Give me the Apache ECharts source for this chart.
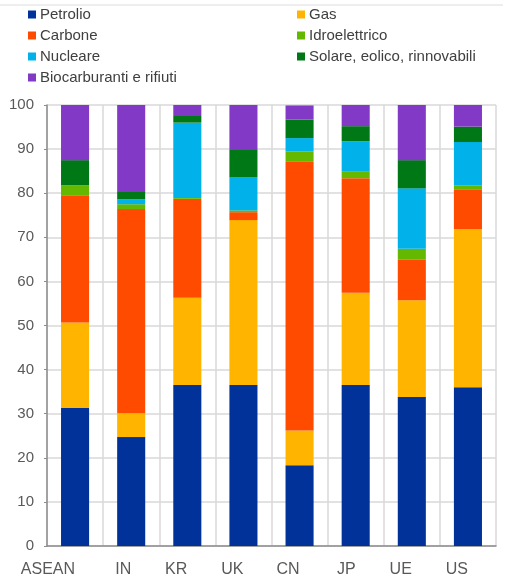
<!DOCTYPE html>
<html>
<head>
<meta charset="utf-8">
<script src="https://cdn.jsdelivr.net/npm/echarts@6/dist/echarts.min.js"></script>
<style>
  html, body { margin: 0; padding: 0; background: #fff; }
  #main { width: 508px; height: 579px; }
</style>
</head>
<body>
<div id="main"></div>
<script>
// categorie e valori (quote %)
var paesi = ['ASEAN', 'IN', 'KR', 'UK', 'CN', 'JP', 'UE', 'US'];
var petrolio = [31.3, 24.7, 36.5, 36.5, 18.3, 36.5, 33.8, 36.0];
var gas = [19.4, 5.4, 19.8, 37.4, 7.9, 20.9, 21.9, 35.9];
var carbone = [28.7, 46.3, 22.4, 1.8, 60.9, 26.0, 9.2, 9.0];
var idroelettrico = [2.4, 1.1, 0.2, 0.4, 2.4, 1.6, 2.5, 0.9];
var nucleare = [0, 1.1, 17.1, 7.5, 3.0, 6.8, 13.7, 9.8];
var solare = [5.7, 1.7, 1.5, 6.2, 4.2, 3.4, 6.4, 3.5];
var biocarburanti = [12.5, 19.7, 2.5, 10.2, 3.2, 4.8, 12.5, 4.9];
var yTicks = [0, 100, 10];

var colori = ['#003299', '#FFB400', '#FF4B00', '#65B800', '#00B1EA', '#007816', '#8139C6'];

var myChart = echarts.init(document.getElementById('main'));

function serie(nome, dati) {
  return {
    name: nome,
    type: 'bar',
    stack: 'tot',
    barWidth: '50%',
    data: dati
  };
}

var legendaBase = {
  orient: 'vertical',
  top: 2,
  itemWidth: 8,
  itemHeight: 8,
  itemGap: 6,
  icon: 'rect',
  selectedMode: false,
  textStyle: { fontFamily: 'Liberation Sans', fontSize: 15, color: '#404040', padding: [0, 0, 0, -1] }
};

var option = {
  color: colori,
  animation: false,
  legend: [
    Object.assign({}, legendaBase, { left: 23, data: ['Petrolio', 'Carbone', 'Nucleare', 'Biocarburanti e rifiuti'] }),
    Object.assign({}, legendaBase, { left: 292, data: ['Gas', 'Idroelettrico', 'Solare, eolico, rinnovabili'] })
  ],
  graphic: [{
    type: 'line',
    shape: { x1: 0, y1: 5, x2: 503, y2: 5 },
    style: { stroke: '#dcdcdc', lineWidth: 1 }
  }],
  grid: { left: 47, right: 12, top: 105, bottom: 33 },
  xAxis: {
    type: 'category',
    data: paesi,
    axisLine: { lineStyle: { color: '#8c8c8c', width: 1.5 } },
    axisTick: { length: 5, lineStyle: { color: '#8c8c8c', width: 1.5 } },
    axisLabel: { interval: 0, align: 'right', margin: 16, fontFamily: 'Liberation Sans', fontSize: 16, color: '#595959' },
    splitLine: { show: true, interval: 0, lineStyle: { color: '#d9d9d9', width: 1.5 } }
  },
  yAxis: {
    type: 'value',
    min: yTicks[0],
    max: yTicks[1],
    interval: yTicks[2],
    axisLine: { show: true, lineStyle: { color: '#8c8c8c', width: 1.5 } },
    axisTick: { show: true, length: 3, lineStyle: { color: '#8c8c8c' } },
    axisLabel: { margin: 13, fontFamily: 'Liberation Sans', fontSize: 15, color: '#595959' },
    splitLine: { lineStyle: { color: '#d9d9d9', width: 1.5 } }
  },
  series: [
    serie('Petrolio', petrolio),
    serie('Gas', gas),
    serie('Carbone', carbone),
    serie('Idroelettrico', idroelettrico),
    serie('Nucleare', nucleare),
    serie('Solare, eolico, rinnovabili', solare),
    serie('Biocarburanti e rifiuti', biocarburanti)
  ]
};

myChart.setOption(option);
</script>
</body>
</html>
